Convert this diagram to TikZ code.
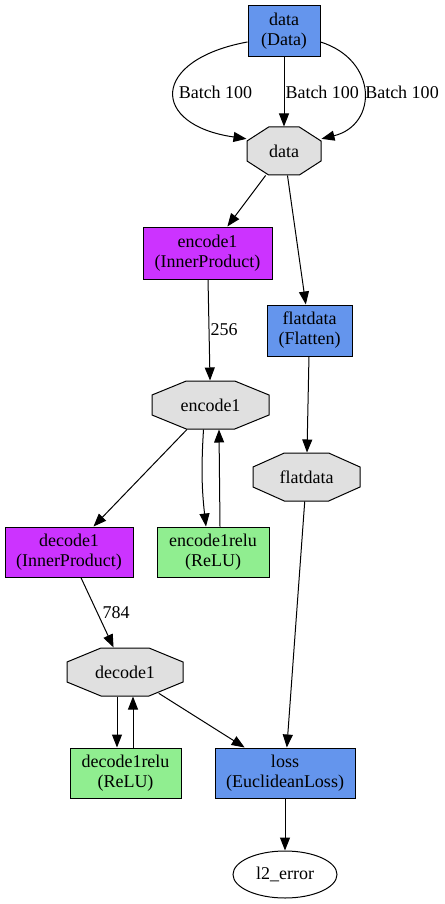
\documentclass[tikz,border=0pt]{standalone}
\usepackage{fontspec}
\setmainfont{Liberation Serif}
\usetikzlibrary{arrows.meta,shapes.geometric}
\definecolor{datablue}{HTML}{6495ED}
\definecolor{ipurple}{HTML}{CC33FF}
\definecolor{relugreen}{HTML}{90EE90}
\definecolor{blobgray}{HTML}{E0E0E0}

% octagon blob: name, x, y, width, text
\newcommand\octblob[5]{%
  \filldraw[fill=blobgray]
    ({#2-#4/2},{#3-10}) -- ({#2-#4/2+0.293*#4},{#3-24}) -- ({#2+#4/2-0.293*#4},{#3-24})
    -- ({#2+#4/2},{#3-10}) -- ({#2+#4/2},{#3+10}) -- ({#2+#4/2-0.293*#4},{#3+24})
    -- ({#2-#4/2+0.293*#4},{#3+24}) -- ({#2-#4/2},{#3+10}) -- cycle;
  \node[blb, minimum width=#4pt] (#1) at (#2,#3) {#5};}

\begin{document}
\begin{tikzpicture}[x=1pt, y=-1pt,
  lyr/.style={draw, rectangle, line width=1pt, align=center, inner sep=0pt,
              minimum height=50pt, font=\fontsize{18}{20}\selectfont},
  blb/.style={rectangle, inner sep=0pt, minimum height=48pt,
              font=\fontsize{18}{20}\selectfont},
  lbl/.style={font=\fontsize{18}{20}\selectfont, inner sep=1pt},
  >={Triangle[length=13pt,width=10pt]}, line width=1pt]
  \useasboundingbox (0,0) rectangle (444,904);
  % layers and blobs
  \node[lyr, fill=datablue, minimum width=72pt, minimum height=51pt] (dataL) at (284,31.5) {data\\(Data)};
  \octblob{dataB}{284}{151}{74}{data}
  \node[lyr, fill=ipurple, minimum width=129pt, minimum height=52pt] (enc1L) at (207.5,253) {encode1\\(InnerProduct)};
  \node[lyr, fill=datablue, minimum width=85pt, minimum height=51pt] (flatL) at (309.5,330.5) {flatdata\\(Flatten)};
  \octblob{enc1B}{210.5}{405}{117}{encode1}
  \octblob{flatB}{306.5}{477}{107}{flatdata}
  \node[lyr, fill=ipurple, minimum width=128pt] (dec1L) at (69,552) {decode1\\(InnerProduct)};
  \node[lyr, fill=relugreen, minimum width=112pt] (relu1L) at (213,552) {encode1relu\\(ReLU)};
  \octblob{dec1B}{125}{672}{116}{decode1}
  \node[lyr, fill=relugreen, minimum width=111pt] (relu2L) at (125.5,773) {decode1relu\\(ReLU)};
  \node[lyr, fill=datablue, minimum width=140pt] (lossL) at (285,773) {loss\\(EuclideanLoss)};
  \node[draw, ellipse, inner sep=0pt, minimum width=104pt, minimum height=47pt,
        font=\fontsize{18}{20}\selectfont] (errB) at (285,874.5) {l2\_error};
  % edges
  \draw[->] (dataL.196) .. controls (150,60) and (150,125) .. (dataB.162)
    node[lbl, pos=.5, right, xshift=3pt] {Batch 100};
  \draw[->] (dataL) -- (dataB) node[lbl, midway, right] {Batch 100};
  \draw[->] (dataL.-16) .. controls (378,60) and (378,125) .. (dataB.18)
    node[lbl, pos=.5, right] {Batch 100};
  \draw[->] (dataB) -- (enc1L);
  \draw[->] (dataB) -- (flatL);
  \draw[->] (enc1L) -- (enc1B) node[lbl, midway, right] {256};
  \draw[->] (flatL) -- (flatB);
  \draw[->] (enc1B) -- (dec1L);
  \draw[->] ([xshift=-7pt]enc1B.south) to[bend right=5] ([xshift=-7pt]relu1L.north);
  \draw[->] ([xshift=7pt]relu1L.north) -- ([xshift=8.5pt]enc1B.south);
  \draw[->] (dec1L) -- (dec1B) node[lbl, midway, right, xshift=4pt] {784};
  \draw[->] ([xshift=-8pt]dec1B.south) -- ([xshift=-8.5pt]relu2L.north);
  \draw[->] ([xshift=7.5pt]relu2L.north) -- ([xshift=8pt]dec1B.south);
  \draw[->, shorten <=-6pt] (dec1B) -- (lossL);
  \draw[->] (flatB) -- (lossL);
  \draw[->] (lossL) -- (errB);
\end{tikzpicture}
\end{document}
